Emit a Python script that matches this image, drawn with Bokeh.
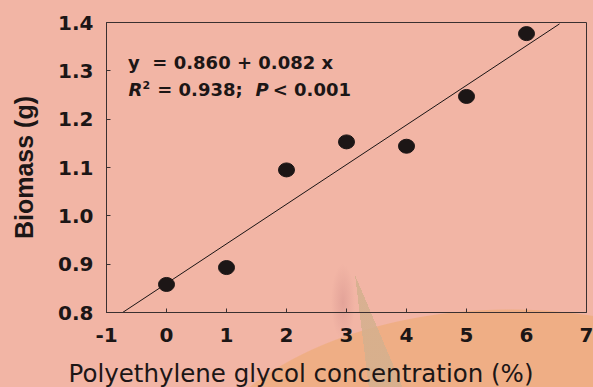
from bokeh.plotting import figure
from bokeh.models import (FixedTicker, Label, ColumnDataSource, NumeralTickFormatter,
                          Title, InlineStyleSheet)
from bokeh.embed import file_html
from bokeh.resources import INLINE

# ---- data ----
peg_conc = [0, 1, 2, 3, 4, 5, 6]
biomass = [0.858, 0.893, 1.095, 1.153, 1.144, 1.247, 1.377]
fit_intercept = 0.860
fit_slope = 0.082
fit_x = [-1.0, 6.55]
fit_y = [fit_intercept + fit_slope * x for x in fit_x]
x_ticks = [-1, 0, 1, 2, 3, 4, 5, 6, 7]
y_ticks = [0.8, 0.9, 1.0, 1.1, 1.2, 1.3, 1.4]
x_title = "Polyethylene glycol concentration (%)"
y_title = "Biomass (g)"
eq_line1 = "y\u00a0 = 0.860 + 0.082 x"
eq_r2 = "= 0.938;"
eq_p = "< 0.001"

BG = "#F2B5A5"
INK = "#1c1616"
FRAME = "#3a3030"
FONT = "DejaVu Sans"
W, H = 593, 387

# page background incl. the faint publisher watermark of the reference (pure decoration)
bg_css = f"""
:host {{
  background:
    conic-gradient(from 0deg at 355px 275px, transparent 0deg 157deg,
                   rgba(212,176,142,0.85) 157deg 173deg, transparent 173deg 360deg),
    radial-gradient(ellipse 12px 38px at 343px 302px, rgba(200,130,130,0.35), rgba(200,130,130,0) 100%),
    radial-gradient(ellipse 330px 200px at 510px 509px, #EFAE85 0%, #EFAE85 99.5%, rgba(239,174,133,0) 100%),
    {BG};
}}
"""

p = figure(width=W, height=H, x_range=(-1, 7), y_range=(0.8, 1.4),
           output_backend="svg", toolbar_location=None,
           min_border_left=106, min_border_right=7, min_border_top=22, min_border_bottom=74,
           stylesheets=[InlineStyleSheet(css=bg_css)])
p.background_fill_color = None
p.border_fill_color = None
p.outline_line_color = FRAME
p.outline_line_width = 1
p.grid.visible = False

for ax in (p.xaxis[0], p.yaxis[0]):
    ax.axis_line_color = FRAME
    ax.major_tick_line_color = FRAME
    ax.major_tick_in = 4
    ax.major_tick_out = 0
    ax.minor_tick_line_color = None
    ax.major_label_text_font = FONT
    ax.major_label_text_font_style = "bold"
    ax.major_label_text_font_size = "20px"
    ax.major_label_text_color = INK
    ax.axis_label_text_color = INK

p.xaxis.ticker = FixedTicker(ticks=x_ticks)
p.xaxis.major_label_overrides = {t: str(t) for t in x_ticks}
p.yaxis.ticker = FixedTicker(ticks=y_ticks)
p.yaxis.formatter = NumeralTickFormatter(format="0.0")
p.xaxis.major_label_standoff = 15
p.yaxis.major_label_standoff = 13

p.yaxis.axis_label = y_title
p.yaxis.axis_label_text_font = "Liberation Sans"
p.yaxis.axis_label_text_font_style = "bold"
p.yaxis.axis_label_text_font_size = "25px"
p.yaxis.axis_label_standoff = 17

# x-axis title: left of centre as in the reference
title_kw = dict(text=x_title, align="left", offset=-38, vertical_align="bottom",
                text_font=FONT, text_font_style="normal",
                text_font_size="24.5px", text_color=INK)
if "padding" in Title.properties():
    title_kw.update(standoff=0, padding=dict(top=12, right=0, bottom=0, left=0))
else:
    title_kw.update(standoff=12)
p.add_layout(Title(**title_kw), "below")

# regression line
p.line(fit_x, fit_y, line_color="#1a1414", line_width=1)

# data points
src = ColumnDataSource(dict(x=peg_conc, y=biomass))
p.ellipse(x="x", y="y", width=16, height=14, width_units="screen", height_units="screen",
          source=src, fill_color=INK, line_color=INK)

# equation text
def lab(x, y, text, size="18px", style="bold"):
    p.add_layout(Label(x=x, y=y, text=text, text_font=FONT, text_font_size=size,
                       text_font_style=style, text_color=INK, text_baseline="alphabetic",
                       text_align="left"))

lab(-0.64, 1.3175, eq_line1)
lab(-0.633, 1.2605, "R", style="bold italic")
lab(-0.40, 1.2715, "2", size="11px")
lab(-0.155, 1.2605, eq_r2)
lab(1.483, 1.2605, "P", style="bold italic")
lab(1.77, 1.2605, eq_p)

open("out.html", "w").write(file_html(p, INLINE))
